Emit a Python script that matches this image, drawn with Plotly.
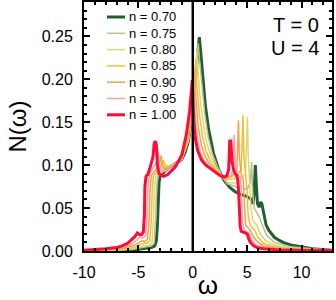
import plotly.graph_objects as go

# ---------------- data ----------------
labels = ["n = 0.70", "n = 0.75", "n = 0.80", "n = 0.85", "n = 0.90", "n = 0.95", "n = 1.00"]
colors = ["#1f5f30", "#b9c08c", "#dcd77a", "#f2c12e", "#f5a04a", "#f5a3a0", "#ff0a3a"]
widths = [3, 1.5, 1.5, 1.5, 1.5, 1.5, 3]

w_070 = [-10, -8, -6, -5, -4.3, -3.8, -3.5, -3.35, -3.25, -3.17, -3.1, -3.0, -2.8, -2.5, -2.2, -1.8, -1.3, -1.0,
         -0.7, -0.4, -0.1, 0.1, 0.3, 0.45, 0.55, 0.6, 0.7, 0.85, 1.0, 1.15, 1.45, 1.9, 2.4, 2.9, 3.4, 3.9, 4.4,
         4.9, 5.3, 5.45, 5.55, 5.65, 5.75, 5.85, 5.95, 6.1, 6.25, 6.35, 6.5, 6.75, 7.0, 7.5, 8.0, 8.5, 9.0, 10.0,
         11.0, 12.8]
n_070 = [0.0002, 0.0005, 0.001, 0.002, 0.003, 0.004, 0.006, 0.012, 0.03, 0.06, 0.08, 0.087, 0.09, 0.094, 0.097,
         0.1, 0.104, 0.107, 0.115, 0.128, 0.155, 0.18, 0.205, 0.228, 0.243, 0.249, 0.236, 0.215, 0.19, 0.17, 0.142,
         0.114, 0.094, 0.082, 0.074, 0.069, 0.066, 0.064, 0.061, 0.058, 0.055, 0.07, 0.1, 0.075, 0.055, 0.051,
         0.057, 0.055, 0.045, 0.03, 0.024, 0.016, 0.012, 0.009, 0.007, 0.0045, 0.0025, 0.001]

w_075 = [-10, -8, -6.5, -5.5, -4.5, -4.05, -3.8, -3.55, -3.4, -3.32, -3.2, -2.8, -2.5, -2.3, -2.2, -1.9, -1.5,
         -1.0, -0.4, 0.0, 0.3, 0.42, 0.5, 0.6, 0.8, 1.1, 1.4, 1.8, 2.3, 2.8, 3.2, 4.2, 5.0, 5.3, 5.4, 5.5, 5.65,
         5.9, 6.1, 6.4, 6.8, 7.5, 9.0, 11.0, 12.8]
n_075 = [0.0003, 0.0006, 0.0012, 0.002, 0.004, 0.005, 0.006, 0.009, 0.04, 0.075, 0.087, 0.092, 0.096, 0.099,
         0.098, 0.1, 0.103, 0.107, 0.128, 0.16, 0.2, 0.228, 0.242, 0.225, 0.195, 0.16, 0.134, 0.113, 0.097, 0.085,
         0.078, 0.074, 0.072, 0.08, 0.104, 0.07, 0.05, 0.045, 0.04, 0.03, 0.018, 0.01, 0.005, 0.0025, 0.0015]

w_080 = [-10, -8, -6.5, -5.5, -4.7, -4.25, -4.0, -3.75, -3.6, -3.52, -3.4, -3.0, -2.7, -2.5, -2.38, -2.1, -1.5,
         -1.0, -0.4, 0.05, 0.28, 0.38, 0.5, 0.7, 1.0, 1.3, 1.7, 2.2, 2.7, 3.2, 4.0, 4.85, 4.95, 5.03, 5.1, 5.22,
         5.35, 5.5, 5.9, 6.2, 6.7, 7.5, 9.0, 11.0, 12.8]
n_080 = [0.0003, 0.0008, 0.0015, 0.003, 0.005, 0.007, 0.007, 0.01, 0.04, 0.075, 0.087, 0.093, 0.097, 0.102,
         0.098, 0.099, 0.103, 0.107, 0.129, 0.165, 0.205, 0.232, 0.205, 0.175, 0.145, 0.125, 0.109, 0.096, 0.087,
         0.08, 0.079, 0.09, 0.13, 0.156, 0.11, 0.08, 0.05, 0.036, 0.03, 0.02, 0.012, 0.007, 0.0035, 0.0018, 0.0012]

w_085 = [-10, -8, -6.5, -5.5, -4.8, -4.45, -4.2, -3.95, -3.8, -3.72, -3.6, -3.2, -2.9, -2.7, -2.58, -2.3, -1.9,
         -1.5, -1.0, -0.4, 0.0, 0.18, 0.27, 0.4, 0.6, 0.9, 1.2, 1.6, 2.1, 2.6, 3.0, 3.8, 4.45, 4.55, 4.62, 4.7,
         4.85, 5.0, 5.1, 5.3, 5.7, 6.0, 6.5, 7.5, 9.0, 11.0, 12.8]
n_085 = [0.0004, 0.001, 0.002, 0.004, 0.007, 0.009, 0.009, 0.012, 0.04, 0.075, 0.088, 0.094, 0.099, 0.106,
         0.098, 0.097, 0.1, 0.103, 0.108, 0.13, 0.165, 0.2, 0.222, 0.19, 0.16, 0.133, 0.117, 0.105, 0.095, 0.088,
         0.083, 0.084, 0.095, 0.13, 0.158, 0.11, 0.085, 0.07, 0.04, 0.03, 0.024, 0.016, 0.009, 0.005, 0.0027,
         0.0015, 0.001]

w_090 = [-10, -8, -6.5, -5.5, -5.0, -4.65, -4.4, -4.15, -4.0, -3.92, -3.8, -3.4, -3.1, -2.9, -2.78, -2.5, -2.0,
         -1.5, -1.0, -0.4, -0.1, 0.08, 0.15, 0.3, 0.5, 0.8, 1.1, 1.5, 2.0, 2.5, 3.0, 3.6, 4.05, 4.15, 4.2, 4.28,
         4.45, 4.65, 4.75, 4.85, 5.3, 5.6, 6.0, 6.5, 7.5, 9.0, 11.0, 12.8]
n_090 = [0.0005, 0.0015, 0.003, 0.006, 0.009, 0.012, 0.011, 0.014, 0.04, 0.075, 0.088, 0.095, 0.1, 0.111, 0.098,
         0.095, 0.099, 0.103, 0.109, 0.133, 0.163, 0.195, 0.212, 0.175, 0.145, 0.123, 0.111, 0.102, 0.094, 0.088,
         0.084, 0.087, 0.095, 0.13, 0.152, 0.11, 0.09, 0.083, 0.05, 0.03, 0.024, 0.016, 0.01, 0.006, 0.0035, 0.002,
         0.0012, 0.0008]

w_095 = [-10, -8, -7, -6, -5.3, -4.85, -4.6, -4.35, -4.2, -4.12, -4.0, -3.7, -3.4, -3.2, -3.15, -3.05, -2.8, -2.4,
         -2.0, -1.5, -1.0, -0.5, -0.2, 0.0, 0.05, 0.2, 0.4, 0.7, 1.0, 1.5, 2.0, 2.5, 3.0, 3.5, 3.7, 3.8, 3.9, 4.1,
         4.4, 4.5, 4.6, 4.8, 5.2, 5.4, 5.8, 6.5, 7.5, 9.0, 11.0, 12.8]
n_095 = [0.0006, 0.002, 0.003, 0.006, 0.011, 0.016, 0.015, 0.018, 0.04, 0.075, 0.088, 0.095, 0.102, 0.11, 0.115,
         0.1, 0.092, 0.094, 0.098, 0.103, 0.11, 0.133, 0.16, 0.193, 0.204, 0.16, 0.133, 0.115, 0.106, 0.098,
         0.093, 0.088, 0.085, 0.088, 0.095, 0.135, 0.1, 0.09, 0.085, 0.06, 0.03, 0.024, 0.02, 0.013, 0.007, 0.004,
         0.0025, 0.0015, 0.001, 0.0007]

w_100 = [-10, -9, -8, -7, -6.5, -6, -5.6, -5.3, -5.1, -4.9, -4.7, -4.55, -4.45, -4.4, -4.3, -4.15, -3.95, -3.8,
         -3.65, -3.55, -3.45, -3.35, -3.25, -3.1, -2.7, -2.3, -2.0, -1.6, -1.3, -1.0, -0.6, -0.3, -0.1, -0.05,
         0.1, 0.25, 0.45, 0.8, 1.2, 1.6, 2.0, 2.5, 2.9, 3.15, 3.3, 3.4, 3.5, 3.6, 3.75, 3.9, 4.05, 4.15, 4.25,
         4.35, 4.45, 4.6, 4.8, 5.0, 5.15, 5.3, 5.6, 6.0, 6.5, 7.0, 8.0, 9.0, 10.0, 11.0, 12.8]
n_100 = [0.0008, 0.0015, 0.0025, 0.004, 0.006, 0.009, 0.013, 0.017, 0.021, 0.019, 0.019, 0.022, 0.04, 0.075,
         0.087, 0.089, 0.096, 0.103, 0.11, 0.125, 0.128, 0.124, 0.1, 0.09, 0.087, 0.089, 0.093, 0.098, 0.105,
         0.112, 0.135, 0.162, 0.19, 0.199, 0.15, 0.13, 0.117, 0.106, 0.1, 0.096, 0.092, 0.088, 0.086, 0.088,
         0.095, 0.128, 0.128, 0.105, 0.095, 0.09, 0.088, 0.082, 0.06, 0.03, 0.023, 0.022, 0.021, 0.02, 0.014,
         0.01, 0.006, 0.0035, 0.0025, 0.002, 0.0013, 0.001, 0.0008, 0.0006, 0.0005]

omegas = [w_070, w_075, w_080, w_085, w_090, w_095, w_100]
dos = [n_070, n_075, n_080, n_085, n_090, n_095, n_100]

x_ticks = [-10, -5, 0, 5, 10]
y_ticks = [0.00, 0.05, 0.10, 0.15, 0.20, 0.25]

# ---------------- figure ----------------
FONT = "Liberation Sans, Arial, Helvetica, sans-serif"
W, H = 336, 300
ML, MR, MT, MB = 84, 4, 2, 49
PW, PH = W - ML - MR, H - MT - MB

fig = go.Figure()
for w, d, lab, c, lw in zip(omegas, dos, labels, colors, widths):
    fig.add_trace(go.Scatter(x=w, y=d, mode="lines", name=lab,
                             line=dict(color=c, width=lw), showlegend=False))

# vertical reference line at omega = 0
fig.add_shape(type="line", xref="x", yref="paper", x0=0, x1=0, y0=0, y1=1,
              line=dict(color="black", width=2.5), layer="above")

# compact legend (key lines + labels), placed in paper coordinates
leg_x0_px, leg_x1_px, leg_text_px = 107, 125, 127
leg_top_px, leg_step_px = 17, 16.3
for i, (lab, c, lw) in enumerate(zip(labels, colors, widths)):
    ypx = leg_top_px + leg_step_px * i
    yp = (H - MB - ypx) / PH
    fig.add_shape(type="line", xref="paper", yref="paper",
                  x0=(leg_x0_px - ML) / PW, x1=(leg_x1_px - ML) / PW, y0=yp, y1=yp,
                  line=dict(color=c, width=lw))
    fig.add_annotation(text=lab, xref="paper", yref="paper",
                       x=(leg_text_px - ML) / PW, y=yp, xanchor="left", yanchor="middle",
                       showarrow=False, font=dict(family=FONT, size=13, color="black"))

fig.add_annotation(text="T = 0", xref="paper", yref="paper", x=0.955, y=0.908,
                   xanchor="right", yanchor="middle", showarrow=False,
                   font=dict(family=FONT, size=20, color="black"))
fig.add_annotation(text="U = 4", xref="paper", yref="paper", x=0.955, y=0.815,
                   xanchor="right", yanchor="middle", showarrow=False,
                   font=dict(family=FONT, size=20, color="black"))

axis_common = dict(showline=True, linecolor="black", linewidth=2, mirror="allticks",
                   ticks="inside", ticklen=6, tickwidth=2, tickcolor="black",
                   showgrid=False, zeroline=False, automargin=False,
                   tickfont=dict(family=FONT, size=16, color="black"))

fig.update_layout(
    width=W, height=H,
    margin=dict(l=ML, r=MR, t=MT, b=MB),
    paper_bgcolor="white", plot_bgcolor="white",
    font=dict(family=FONT, color="black"),
    showlegend=False,
    xaxis=dict(range=[-10, 12.8], tickvals=x_ticks, ticktext=[str(v) for v in x_ticks],
               minor=dict(dtick=1, ticklen=3, tickwidth=2, tickcolor="black", ticks="inside"),
               title=dict(text="ω", font=dict(family=FONT, size=26), standoff=0),
               ticklabelstandoff=6, **axis_common),
    yaxis=dict(range=[0, 0.29], tickvals=y_ticks, ticktext=[f"{v:.2f}" for v in y_ticks],
               minor=dict(dtick=0.01, ticklen=3, tickwidth=2, tickcolor="black", ticks="inside"),
               title=dict(text="N(ω)", font=dict(family=FONT, size=24), standoff=8),
               ticklabelstandoff=6, **axis_common),
)

fig.write_html("out.html", config={"displayModeBar": False},
               post_script="document.body.style.margin='0';document.body.style.padding='0';")
